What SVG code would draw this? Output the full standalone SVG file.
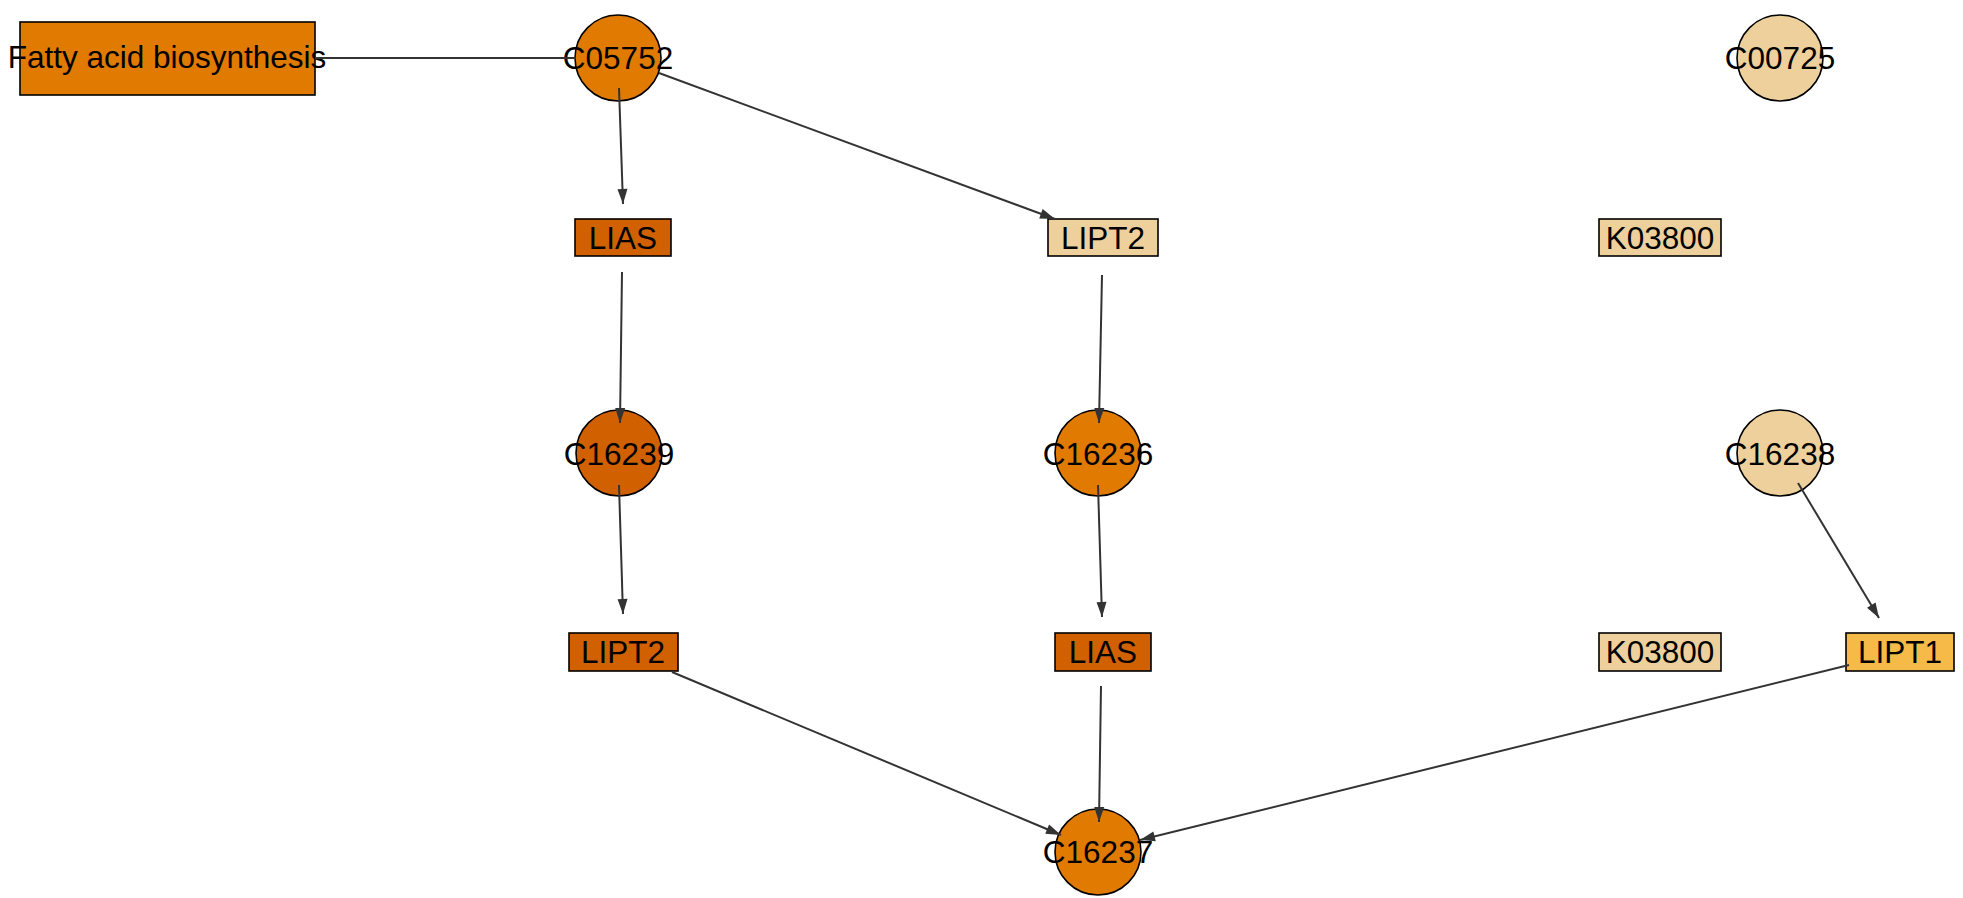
<svg xmlns="http://www.w3.org/2000/svg" width="1963" height="898" viewBox="0 0 1963 898">
<style>
.n{stroke:#000;stroke-width:1.6}
.t{font-family:"Liberation Sans",Arial,sans-serif;font-size:31.5px;fill:#000;text-anchor:middle}
.e{stroke:#333;stroke-width:2;fill:none}
.dark{fill:#D06000}
.mid{fill:#E07A00}
.light{fill:#EDD09B}
.gold{fill:#F5BA47}
</style>
<defs>
<marker id="arr" markerUnits="userSpaceOnUse" markerWidth="20" markerHeight="14" viewBox="-16 -7 18 14" refX="0" refY="0" orient="auto">
<path d="M0,0 L-15,-5 L-15,5 z" fill="#333"/>
</marker>
</defs>
<rect width="1963" height="898" fill="#fff"/>
<g id="n_fatty"><rect class="n mid" x="20" y="22" width="295" height="73"/><text class="t" x="167" y="67.5">Fatty acid biosynthesis</text></g>
<g id="n_C05752"><circle class="n mid" cx="618" cy="58" r="43"/><text class="t" x="618" y="69">C05752</text></g>
<g id="n_C00725"><circle class="n light" cx="1780" cy="58" r="43"/><text class="t" x="1780" y="69">C00725</text></g>
<g id="n_LIAS1"><rect class="n dark" x="575" y="219" width="96" height="37"/><text class="t" x="623" y="248.5">LIAS</text></g>
<g id="n_LIPT2a"><rect class="n light" x="1048" y="219" width="110" height="37"/><text class="t" x="1103" y="248.5">LIPT2</text></g>
<g id="n_K03800a"><rect class="n light" x="1599" y="219" width="122" height="37"/><text class="t" x="1660" y="248.5">K03800</text></g>
<g id="n_C16239"><circle class="n dark" cx="619" cy="453" r="43"/><text class="t" x="619" y="464.5">C16239</text></g>
<g id="n_C16236"><circle class="n mid" cx="1098" cy="453" r="43"/><text class="t" x="1098" y="464.5">C16236</text></g>
<g id="n_C16238"><circle class="n light" cx="1780" cy="453" r="43"/><text class="t" x="1780" y="464.5">C16238</text></g>
<g id="n_LIPT2b"><rect class="n dark" x="569" y="633" width="109" height="38"/><text class="t" x="623" y="662.5">LIPT2</text></g>
<g id="n_LIAS2"><rect class="n dark" x="1055" y="633" width="96" height="38"/><text class="t" x="1103" y="662.5">LIAS</text></g>
<g id="n_K03800b"><rect class="n light" x="1599" y="633" width="122" height="38"/><text class="t" x="1660" y="662.5">K03800</text></g>
<g id="n_LIPT1"><rect class="n gold" x="1846" y="633" width="108" height="38"/><text class="t" x="1900" y="662.5">LIPT1</text></g>
<g id="n_C16237"><circle class="n mid" cx="1098" cy="852" r="43"/><text class="t" x="1098" y="863">C16237</text></g>
<g id="edges">
<line class="e" x1="315" y1="58" x2="576" y2="58"/>
<line class="e" x1="619" y1="88" x2="623" y2="204" marker-end="url(#arr)"/>
<line class="e" x1="659" y1="73" x2="1055" y2="219" marker-end="url(#arr)"/>
<line class="e" x1="622" y1="272" x2="620" y2="423" marker-end="url(#arr)"/>
<line class="e" x1="1102" y1="275" x2="1099" y2="423" marker-end="url(#arr)"/>
<line class="e" x1="619" y1="485" x2="623" y2="614" marker-end="url(#arr)"/>
<line class="e" x1="1098" y1="485" x2="1102" y2="617" marker-end="url(#arr)"/>
<line class="e" x1="1798" y1="483" x2="1879" y2="618" marker-end="url(#arr)"/>
<line class="e" x1="672" y1="672" x2="1061" y2="835" marker-end="url(#arr)"/>
<line class="e" x1="1101" y1="686" x2="1099" y2="822" marker-end="url(#arr)"/>
<line class="e" x1="1849" y1="665" x2="1140" y2="840" marker-end="url(#arr)"/>
</g>
</svg>
